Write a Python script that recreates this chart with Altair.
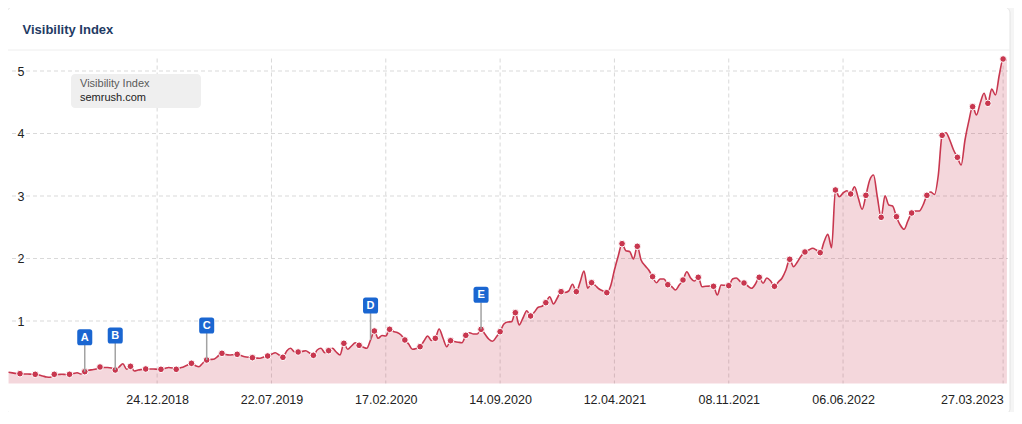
import altair as alt
import pandas as pd
from datetime import date, timedelta

# ---------------- data ----------------
START = date(2018, 3, 26)  # weekly series, Mondays
VALUES = [
    0.18, 0.17, 0.16, 0.157, 0.152, 0.152, 0.149, 0.147, 0.136, 0.12,
    0.104, 0.099, 0.147, 0.144, 0.147, 0.144, 0.147, 0.16, 0.173, 0.152,
    0.189, 0.211, 0.221, 0.232, 0.264, 0.256, 0.256, 0.248, 0.216, 0.264,
    0.317, 0.227, 0.275, 0.2, 0.216, 0.224, 0.232, 0.232, 0.232, 0.229,
    0.227, 0.24, 0.256, 0.248, 0.227, 0.248, 0.269, 0.296, 0.323, 0.288,
    0.269, 0.328, 0.376, 0.384, 0.392, 0.44, 0.483, 0.464, 0.456, 0.461,
    0.467, 0.448, 0.429, 0.419, 0.413, 0.408, 0.403, 0.424, 0.44, 0.467,
    0.493, 0.456, 0.419, 0.52, 0.563, 0.509, 0.504, 0.512, 0.525, 0.488,
    0.451, 0.536, 0.563, 0.493, 0.525, 0.563, 0.504, 0.456, 0.643, 0.547,
    0.6, 0.653, 0.611, 0.584, 0.563, 0.696, 0.84, 0.723, 0.768, 0.76,
    0.867, 0.832, 0.816, 0.776, 0.696, 0.632, 0.547, 0.56, 0.589, 0.68,
    0.76, 0.688, 0.723, 0.872, 0.728, 0.589, 0.685, 0.672, 0.661, 0.653,
    0.771, 0.813, 0.792, 0.792, 0.867, 0.792, 0.712, 0.675, 0.744, 0.829,
    0.952, 0.984, 0.989, 1.133, 0.936, 1.048, 1.165, 1.08, 1.144, 1.219,
    1.235, 1.293, 1.389, 1.272, 1.368, 1.469, 1.456, 1.48, 1.587, 1.469,
    1.624, 1.8, 1.523, 1.613, 1.568, 1.512, 1.48, 1.453, 1.56, 1.816,
    2.04, 2.237, 2.125, 2.112, 1.992, 2.195, 1.976, 1.888, 1.816, 1.709,
    1.613, 1.672, 1.672, 1.581, 1.552, 1.496, 1.576, 1.656, 1.789, 1.688,
    1.64, 1.699, 1.549, 1.557, 1.558, 1.555, 1.416, 1.576, 1.571, 1.565,
    1.672, 1.688, 1.632, 1.608, 1.56, 1.523, 1.592, 1.699, 1.603, 1.688,
    1.64, 1.555, 1.624, 1.688, 1.816, 1.987, 1.869, 1.944, 2.04, 2.104,
    2.136, 2.163, 2.136, 2.093, 2.264, 2.387, 2.173, 3.096, 2.989, 3.048,
    3.085, 3.032, 3.149, 2.968, 2.787, 3.011, 3.256, 3.336, 2.984, 2.659,
    3.005, 2.856, 2.84, 2.669, 2.536, 2.467, 2.6, 2.728, 2.76, 2.76,
    2.856, 3.011, 3.064, 3.024, 3.336, 3.971, 4.013, 3.896, 3.736, 3.619,
    3.496, 3.896, 4.197, 4.429, 4.296, 4.488, 4.643, 4.483, 4.712, 4.616,
    4.936, 5.192, 5.181,
]
DOT_WEEKS = [3, 7, 12, 16, 20, 24, 28, 32, 36, 40, 44, 48, 52, 56, 60, 64,
             68, 72, 76, 80, 84, 88, 92, 96, 100, 104, 108, 112, 116, 120, 124,
             129, 133, 137, 141, 145, 149, 153, 157, 161, 165, 169, 173, 177,
             181, 185, 189, 193, 197, 201, 205, 209, 213, 217, 221, 225, 229,
             233, 237, 241, 245, 249, 253, 257, 261]
FLAG_LETTERS = ["A", "B", "C", "D", "E"]
FLAG_WEEKS = [20, 28, 52, 95, 124]
Y_TICKS = [1, 2, 3, 4, 5]
X_TICKS = ["2018-12-24", "2019-07-22", "2020-02-17", "2020-09-14",
           "2021-04-12", "2021-11-08", "2022-06-06", "2023-03-27"]
X_DOMAIN = ["2018-03-25", "2023-04-05"]
TITLE = ["Visibility Index"]
LEGEND_TITLE = ["Visibility Index"]
LEGEND_DOMAIN = ["semrush.com"]

# ---------------- tables ----------------
dates = [(START + timedelta(weeks=i)).isoformat() for i in range(len(VALUES))]
df = pd.DataFrame({"date": dates, "v": VALUES})
dots_df = df.iloc[DOT_WEEKS].reset_index(drop=True)
flags_df = pd.DataFrame({
    "date": [dates[i] for i in FLAG_WEEKS],
    "v": [VALUES[i] for i in FLAG_WEEKS],
    "letter": FLAG_LETTERS,
})


def dt(s):
    y, m, d = map(int, s.split("-"))
    return alt.DateTime(year=y, month=m, date=d, utc=True)


W, H = 1000, 325
FONT = "Liberation Sans"
RED = "#c8374f"
BLUE = "#1a66d1"
GRID = "#d9d9d9"

xscale = alt.Scale(type="utc", domain=[dt(s) for s in X_DOMAIN])
xaxis = alt.Axis(values=[dt(s) for s in X_TICKS],
                 labelExpr="utcFormat(datum.value, '%d.%m.%Y')",
                 title=None, grid=False, ticks=False, tickSize=0, domain=False,
                 labelPadding=10, labelFontSize=12.5, labelColor="#222222",
                 labelFont=FONT, labelFlush=8, zindex=1)
yscale = alt.Scale(domain=[0, 5.2], nice=False, zero=True)
yaxis = alt.Axis(values=Y_TICKS, title=None, grid=False, ticks=False,
                 tickSize=0, domain=False, labelAlign="left",
                 labelBaseline="middle", labelPadding=-9, labelFontSize=12.5,
                 labelColor="#222222", labelFont=FONT, zindex=1)


def X():
    return alt.X("date:T", scale=xscale, axis=xaxis)


def Y():
    return alt.Y("v:Q", scale=yscale, axis=yaxis)


one = alt.Data(values=[{"k": 0}])

card = alt.Chart(one).mark_rect(
    fill="white", stroke="#e4e4e4", strokeWidth=1, cornerRadius=6
).encode(x=alt.value(-1), x2=alt.value(1002), y=alt.value(-51.5), y2=alt.value(356))

sep = alt.Chart(one).mark_rule(color="#eeeeee", strokeWidth=1).encode(
    x=alt.value(-1), x2=alt.value(1002), y=alt.value(-8.5))

title = alt.Chart(pd.DataFrame({"t": TITLE})).mark_text(
    align="left", baseline="middle", font=FONT, fontSize=13,
    fontWeight="bold", color="#1f3b64"
).encode(text="t:N", x=alt.value(14.5), y=alt.value(-28.5))

hgrid = alt.Chart(pd.DataFrame({"v": Y_TICKS})).mark_rule(
    color=GRID, strokeDash=[4, 3], strokeWidth=1
).encode(y=Y(), x=alt.value(4), x2=alt.value(W))

vgrid = alt.Chart(pd.DataFrame({"date": X_TICKS})).mark_rule(
    color=GRID, strokeDash=[4, 3], strokeWidth=1
).encode(x=X(), y=alt.value(0), y2=alt.value(H))

area = alt.Chart(df).mark_area(
    color=RED, opacity=0.2, interpolate="monotone"
).encode(x=X(), y=Y())

line = alt.Chart(df).mark_line(
    color=RED, strokeWidth=1.6, interpolate="monotone"
).encode(x=X(), y=Y())

dots = alt.Chart(dots_df).mark_circle(
    color=RED, opacity=1, size=44, stroke="white", strokeWidth=1
).encode(x=X(), y=Y())

stems = alt.Chart(flags_df).mark_rule(
    color="#a3a3a3", strokeWidth=1.5, y2Offset=-27
).encode(x=X(), y=Y(), y2=alt.Y2("v:Q"))

BOX = ("M-0.62,-1 L0.62,-1 Q0.94,-1 0.94,-0.68 L0.94,0.68 Q0.94,1 0.62,1 "
       "L-0.62,1 Q-0.94,1 -0.94,0.68 L-0.94,-0.68 Q-0.94,-1 -0.62,-1 Z")
boxes = alt.Chart(flags_df).mark_point(
    shape=BOX, filled=True, color=BLUE, opacity=1, size=256, yOffset=-34.5
).encode(x=X(), y=Y())

letters = alt.Chart(flags_df).mark_text(
    font=FONT, fontSize=11, fontWeight="bold", color="white",
    baseline="middle", align="center", dy=-34
).encode(x=X(), y=Y(), text="letter:N")

legbox = alt.Chart(one).mark_rect(fill="#efefef", cornerRadius=4).encode(
    x=alt.value(63), x2=alt.value(193), y=alt.value(15.5), y2=alt.value(49.5))

leg1 = alt.Chart(pd.DataFrame({"t": LEGEND_TITLE})).mark_text(
    align="left", baseline="middle", font=FONT, fontSize=11, color="#5a5a5a"
).encode(text="t:N", x=alt.value(72), y=alt.value(25.5))

leg2 = alt.Chart(pd.DataFrame({"t": LEGEND_DOMAIN})).mark_text(
    align="left", baseline="middle", font=FONT, fontSize=11, color="#222222"
).encode(text="t:N", x=alt.value(72), y=alt.value(39.5))

chart = alt.layer(
    card, sep, title, hgrid, vgrid, area, line, dots,
    stems, boxes, letters, legbox, leg1, leg2
).properties(
    width=W, height=H,
    padding={"left": 0, "top": 50.5, "right": 6, "bottom": 28},
    autosize=alt.AutoSizeParams(type="none"),
    background="#f5f5f5",
).configure(font=FONT).configure_view(stroke=None)

chart.save("out.html", embed_options={"renderer": "svg", "actions": False})
